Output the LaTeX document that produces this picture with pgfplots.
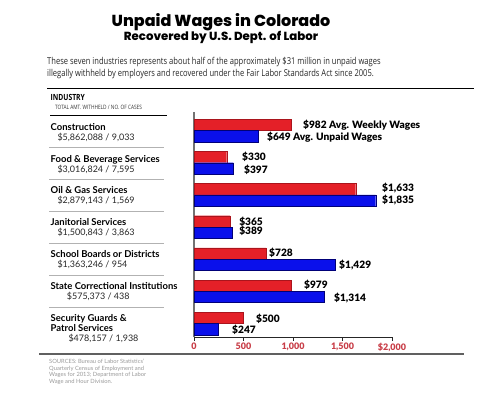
\documentclass[border=0pt]{standalone}
\usepackage{fontspec}
\setmainfont{Lato}
\newfontfamily\heavy{Poppins ExtraBold}
\newfontfamily\blk{Lato Black}
\newfontfamily\cond{Open Sans}[FakeStretch=0.8]
\usepackage{pgfplots}
\pgfplotsset{compat=1.18}
\definecolor{barred}{RGB}{228,32,40}
\definecolor{barreddk}{RGB}{170,20,28}
\definecolor{barblue}{RGB}{10,16,235}
\definecolor{barbluedk}{RGB}{0,0,120}
\definecolor{tickred}{RGB}{200,62,72}
\tikzset{lab/.style={anchor=west, inner sep=0, text height=7.2pt, text depth=0pt, font=\blk\fontsize{10.2}{12}\selectfont}}
\begin{document}
\begin{tikzpicture}[x=1bp,y=1bp]
\useasboundingbox (0,0) rectangle (500,-398);
% titles
\node[anchor=base, font=\heavy\fontsize{16}{18}\selectfont] at (221,-26) {Unpaid Wages in Colorado};
\node[anchor=base, font=\heavy\fontsize{11.8}{14}\selectfont] at (221,-40.7) {Recovered by U.S. Dept. of Labor};
\node[anchor=base west, inner sep=0, font=\cond\fontsize{9.5}{12}\selectfont, text=black!85] at (47,-64) {These seven industries represents about half of the approximately \$31 million in unpaid wages};
\node[anchor=base west, inner sep=0, font=\cond\fontsize{9.5}{12}\selectfont, text=black!85] at (47,-76) {illegally withheld by employers and recovered under the Fair Labor Standards Act since 2005.};
\draw[black, line width=0.8] (47,-88.5) -- (474,-88.5);
% header
\node[anchor=base west, inner sep=0, font=\cond\bfseries\fontsize{8.5}{10}\selectfont] at (50.5,-100.5) {INDUSTRY};
\node[anchor=base west, inner sep=0, font=\cond\fontsize{6}{7}\selectfont, text=black!80] at (55,-109.5) {TOTAL AMT. WITHHELD / NO. OF CASES};
\draw[black, line width=0.8] (50,-115) -- (167,-115);
% separators
\foreach \yy in {147,179,211,243,275,307} {\draw[gray!60, line width=0.6] (49,-\yy) -- (164,-\yy);}
% category names
\tikzset{nm/.style={anchor=base west, inner sep=0, font=\bfseries\fontsize{9.5}{11}\selectfont},
         am/.style={anchor=base west, inner sep=0, font=\fontsize{9}{11}\selectfont, text=black!85}}
\node[nm] at (50.5,-130) {Construction};
\node[am] at (57.3,-140) {\$5,862,088 / 9,033};
\node[nm] at (50.5,-162) {Food \& Beverage Services};
\node[am] at (57.3,-172) {\$3,016,824 / 7,595};
\node[nm] at (50.5,-193.5) {Oil \& Gas Services};
\node[am] at (57.3,-203.5) {\$2,879,143 / 1,569};
\node[nm] at (50.5,-225.5) {Janitorial Services};
\node[am] at (57.3,-235.5) {\$1,500,843 / 3,863};
\node[nm] at (50.5,-257.5) {School Boards or Districts};
\node[am] at (57.3,-267.5) {\$1,363,246 / 954};
\node[nm] at (50.5,-289.3) {State Correctional Institutions};
\node[am] at (66.7,-299.3) {\$575,373 / 438};
\node[nm] at (50.5,-321.5) {Security Guards \&};
\node[nm] at (50.5,-331.5) {Patrol Services};
\node[am] at (68.3,-341.5) {\$478,157 / 1,938};
% bottom line and sources
\draw[gray!75!black, line width=1.8] (39,-354) -- (464,-354);
\node[anchor=north west, inner sep=0, align=left, text=black!40, font=\fontsize{5.8}{6.5}\selectfont] at (49,-359) {SOURCES: Bureau of Labor Statistics'\\Quarterly Census of Employment and\\Wages for 2013; Department of Labor\\Wage and Hour Division.};
\begin{axis}[
  at={(194bp,-112bp)}, anchor=north west, scale only axis,
  width=198bp, height=225bp,
  xmin=0, xmax=2000, ymin=-0.42, ymax=6.575,
  axis x line*=bottom, axis y line*=left,
  x axis line style={black!85, line width=0.8pt, -},
  y axis line style={black!55, line width=1.5pt, -},
  xtick={0,500,1000,1500,2000},
  xticklabels={0,500,{1,000},{1,500},{\$2,000}},
  ytick=\empty,
  tick align=outside, major tick length=4bp,
  tick style={black!85, line width=0.8pt},
  xticklabel style={font=\blk\fontsize{9}{10}\selectfont, text=tickred, inner sep=1.5pt},
  xbar, bar width=0.35, bar shift=0pt,
  clip=false,
]
\addplot[fill=barred, draw=barreddk, line width=0.3pt] coordinates {
 (982,6.175) (330,5.175) (1633,4.175) (365,3.175) (728,2.175) (979,1.175) (500,0.175)};
\addplot[fill=barblue, draw=barbluedk, line width=0.3pt] coordinates {
 (649,5.825) (397,4.825) (1835,3.825) (389,2.825) (1429,1.825) (1314,0.825) (247,-0.175)};
\node[lab] at (axis cs:1101,6.17) {\$982 Avg. Weekly Wages};
\node[lab] at (axis cs:737,5.8) {\$649 Avg. Unpaid Wages};
\node[lab] at (axis cs:485,5.19) {\$330};
\node[lab] at (axis cs:505,4.78) {\$397};
\node[lab] at (axis cs:1899,4.23) {\$1,633};
\node[lab] at (axis cs:1899,3.83) {\$1,835};
\node[lab] at (axis cs:455,3.17) {\$365};
\node[lab] at (axis cs:455,2.89) {\$389};
\node[lab] at (axis cs:758,2.19) {\$728};
\node[lab] at (axis cs:1465,1.81) {\$1,429};
\node[lab] at (axis cs:1111,1.19) {\$979};
\node[lab] at (axis cs:1414,0.81) {\$1,314};
\node[lab] at (axis cs:626,0.14) {\$500};
\node[lab] at (axis cs:384,-0.2) {\$247};
\end{axis}
\end{tikzpicture}
\end{document}
